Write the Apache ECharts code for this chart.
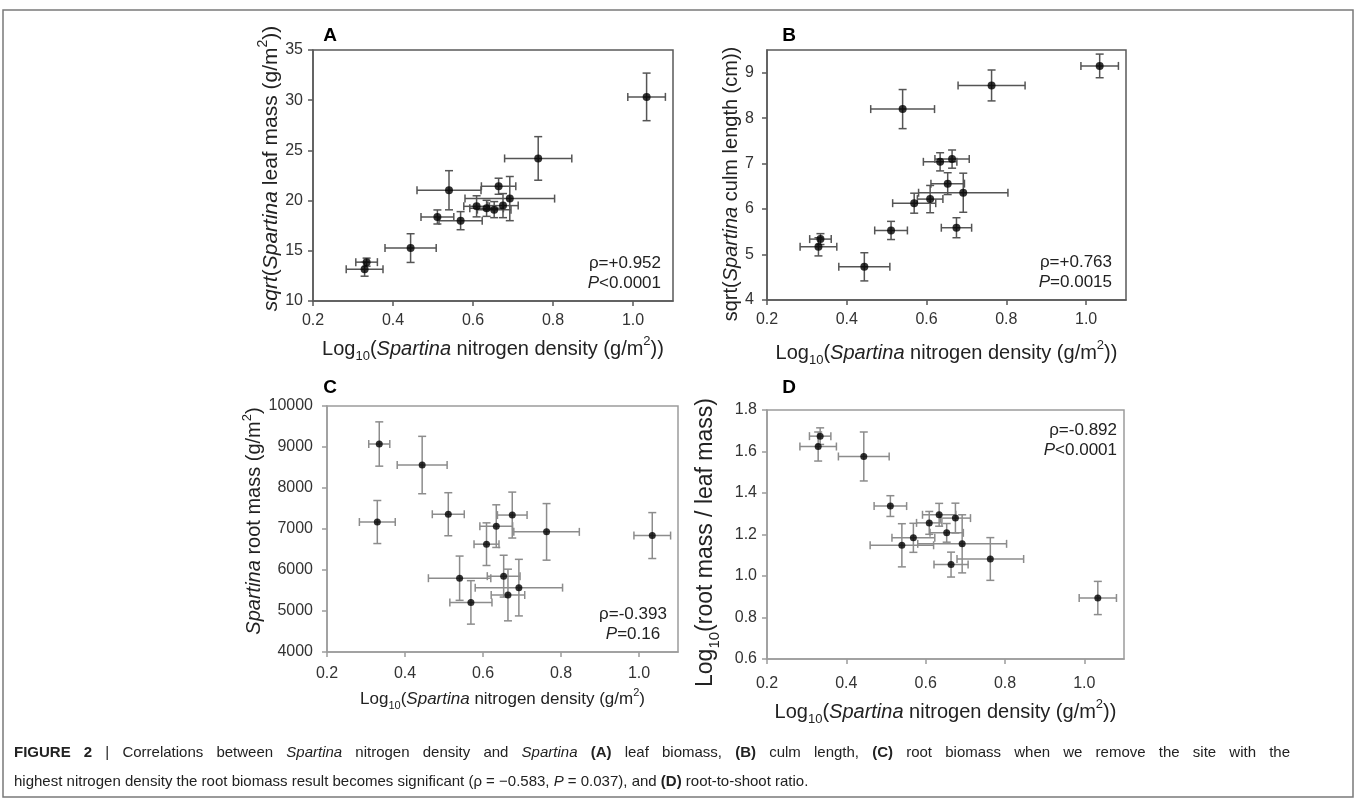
<!DOCTYPE html>
<html>
<head>
<meta charset="utf-8">
<script src="https://cdn.jsdelivr.net/npm/echarts@6/dist/echarts.min.js"></script>
<style>
  html, body { margin: 0; padding: 0; background: #fff; }
  #chart { width: 1357px; height: 804px; }
</style>
</head>
<body>
<div id="chart"></div>
<script>
// 14 sites, log10 nitrogen density (shared x of every panel) and its error
const siteN    = [0.329, 0.334, 0.444, 0.511, 0.540, 0.569, 0.609, 0.634, 0.653, 0.664, 0.675, 0.692, 0.763, 1.034];
const siteNErr = [0.046, 0.027, 0.064, 0.041, 0.080, 0.054, 0.032, 0.042, 0.042, 0.043, 0.038, 0.112, 0.084, 0.047];

// A: sqrt leaf mass
const leafSqrt    = [13.17, 13.87, 15.27, 18.37, 21.03, 18.0, 19.43, 19.23, 19.1, 21.43, 19.5, 20.2, 24.2, 30.33];
const leafSqrtErr = [0.7, 0.4, 1.43, 0.7, 1.95, 0.9, 1.05, 0.8, 0.8, 0.8, 1.2, 2.2, 2.17, 2.37];
// B: sqrt culm length
const culmSqrt    = [5.17, 5.34, 4.73, 5.53, 8.2, 6.13, 6.22, 7.04, 6.56, 7.1, 5.59, 6.36, 8.72, 9.15];
const culmSqrtErr = [0.2, 0.12, 0.31, 0.2, 0.43, 0.22, 0.3, 0.2, 0.24, 0.2, 0.22, 0.43, 0.34, 0.26];
// C: root mass
const rootMass    = [7170, 9073, 8560, 7360, 5800, 5210, 6630, 7070, 5850, 5390, 7340, 5570, 6930, 6840];
const rootMassErr = [525, 540, 700, 525, 540, 530, 520, 520, 510, 630, 560, 690, 690, 560];
// D: log10 root/leaf
const rootShoot    = [1.624, 1.674, 1.576, 1.337, 1.148, 1.184, 1.256, 1.295, 1.208, 1.055, 1.279, 1.155, 1.082, 0.894];
const rootShootErr = [0.07, 0.04, 0.118, 0.05, 0.104, 0.07, 0.055, 0.055, 0.045, 0.06, 0.072, 0.14, 0.103, 0.08];

// tick labels
const xTicks     = [0.2, 0.4, 0.6, 0.8, 1.0];
const leafTicks  = [10, 15, 20, 25, 30, 35];
const culmTicks  = [4, 5, 6, 7, 8, 9];
const rootTicks  = [4000, 5000, 6000, 7000, 8000, 9000, 10000];
const ratioTicks = [0.6, 0.8, 1.0, 1.2, 1.4, 1.6, 1.8];

const FONT = "'Liberation Sans', Arial, Helvetica, sans-serif";
const chart = echarts.init(document.getElementById('chart'));

// rich styles for axis names (echarts text: color)
function nameRich(size, color) {
  const lh = Math.round(size * 1.4);
  const s = Math.round(size * 0.65);
  const base = { fontSize: size, fontFamily: FONT, color: color, lineHeight: lh };
  return {
    n: base,
    i: Object.assign({}, base, { fontStyle: 'italic' }),
    sub: { fontSize: s, fontFamily: FONT, color: color, lineHeight: Math.round(size * 0.7), verticalAlign: 'bottom' },
    sup: { fontSize: s, fontFamily: FONT, color: color, lineHeight: size, verticalAlign: 'top' }
  };
}

const xName2 = '{n|Log}{sub|10}{n|(}{i|Spartina}{n| nitrogen density (g/m}{sup|2}{n|))}';
const xName1 = '{n|Log}{sub|10}{n|(}{i|Spartina}{n| nitrogen density (g/m}{sup|2}{n|)}';

const panels = [
  { grid: { left: 313, top: 50, width: 360, height: 251 }, ys: leafSqrt, errs: leafSqrtErr,
    ymin: 10, ymax: 35, yTicks: leafTicks, dec: 0, dark: true,
    xName: xName2, xGap: 34, xMargin: 12, xSize: 20,
    yName: '{i|sqrt}{n|(}{i|Spartina}{n| leaf mass (g/m}{sup|2}{n|))}', yGap: 23, yMargin: 10, ySize: 21,
    yPad: [0, 0, 0, 14] },
  { grid: { left: 767, top: 50, width: 359, height: 250 }, ys: culmSqrt, errs: culmSqrtErr,
    ymin: 4, ymax: 9.5, yTicks: culmTicks, dec: 0, dark: true,
    xName: xName2, xGap: 39, xMargin: 12, xSize: 20,
    yName: '{n|sqrt(}{i|Spartina}{n| culm length (cm))}', yGap: 22, yMargin: 13, ySize: 20,
    yPad: [0, 18, 0, 0] },
  { grid: { left: 327, top: 406, width: 351, height: 246 }, ys: rootMass, errs: rootMassErr,
    ymin: 4000, ymax: 10000, yTicks: rootTicks, dec: 0, dark: false,
    xName: xName1, xGap: 35, xMargin: 14, xSize: 17,
    yName: '{i|Spartina}{n| root mass (g/m}{sup|2}{n|)}', yGap: 55, yMargin: 14, ySize: 20,
    yPad: [0, 0, 0, 16] },
  { grid: { left: 767, top: 410, width: 357, height: 249 }, ys: rootShoot, errs: rootShootErr,
    ymin: 0.6, ymax: 1.8, yTicks: ratioTicks, dec: 1, dark: false,
    xName: xName2, xGap: 39, xMargin: 17, xSize: 20,
    yName: '{n|Log}{sub|10}{n|(root mass / leaf mass)}', yGap: 45, yMargin: 10, ySize: 23,
    yPad: [0, 16, 0, 0] }
];

function errorBars(color) {
  return function (params, api) {
    const x = api.value(0), y = api.value(1), ex = api.value(2), ey = api.value(3);
    const c = api.coord([x, y]);
    const l = api.coord([x - ex, y])[0], r = api.coord([x + ex, y])[0];
    const t = api.coord([x, y + ey])[1], b = api.coord([x, y - ey])[1];
    const cap = 4;
    const st = () => ({ stroke: color, lineWidth: 1.5 });
    return {
      type: 'group',
      children: [
        { type: 'line', shape: { x1: l, y1: c[1], x2: r, y2: c[1] }, style: st() },
        { type: 'line', shape: { x1: l, y1: c[1] - cap, x2: l, y2: c[1] + cap }, style: st() },
        { type: 'line', shape: { x1: r, y1: c[1] - cap, x2: r, y2: c[1] + cap }, style: st() },
        { type: 'line', shape: { x1: c[0], y1: t, x2: c[0], y2: b }, style: st() },
        { type: 'line', shape: { x1: c[0] - cap, y1: t, x2: c[0] + cap, y2: t }, style: st() },
        { type: 'line', shape: { x1: c[0] - cap, y1: b, x2: c[0] + cap, y2: b }, style: st() }
      ]
    };
  };
}

const grids = [], xAxes = [], yAxes = [], series = [];
panels.forEach((p, k) => {
  const axisCol = p.dark ? '#5a5a5a' : '#9c9c9c';
  const barCol = p.dark ? '#555' : '#8c8c8c';
  grids.push(Object.assign({ show: true, borderColor: axisCol, borderWidth: 1.5, backgroundColor: '#fff' }, p.grid));
  xAxes.push({
    type: 'value', gridIndex: k, min: 0.2, max: 1.1,
    axisLine: { lineStyle: { color: axisCol, width: 1.5 } },
    axisTick: { customValues: xTicks, length: 5, lineStyle: { color: axisCol, width: 1.5 } },
    axisLabel: { customValues: xTicks, margin: p.xMargin, fontSize: 16, fontFamily: FONT, color: '#333',
      formatter: v => v.toFixed(1) },
    splitLine: { show: false },
    name: p.xName, nameLocation: 'middle', nameGap: p.xGap,
    nameTextStyle: { rich: nameRich(p.xSize, '#222') }
  });
  yAxes.push({
    type: 'value', gridIndex: k, min: p.ymin, max: p.ymax,
    axisLine: { show: true, lineStyle: { color: axisCol, width: 1.5 } },
    axisTick: { show: true, customValues: p.yTicks, length: 5, lineStyle: { color: axisCol, width: 1.5 } },
    axisLabel: { customValues: p.yTicks, margin: p.yMargin, fontSize: 16, fontFamily: FONT, color: '#333',
      formatter: v => v.toFixed(p.dec) },
    splitLine: { show: false },
    name: p.yName, nameLocation: 'middle', nameRotate: 90, nameGap: p.yGap,
    nameTextStyle: { padding: p.yPad, rich: nameRich(p.ySize, '#222') }
  });
  const data = siteN.map((x, i) => [x, p.ys[i], siteNErr[i], p.errs[i]]);
  series.push({
    type: 'custom', xAxisIndex: k, yAxisIndex: k, z: 2,
    renderItem: errorBars(barCol), data: data, silent: true
  });
  series.push({
    type: 'scatter', xAxisIndex: k, yAxisIndex: k, z: 3,
    symbol: 'circle', symbolSize: p.dark ? 8 : 7,
    itemStyle: { color: '#000' },
    data: siteN.map((x, i) => [x, p.ys[i]])
  });
});

// zrender rich styles for graphic text (fill)
function gRich(size, color) {
  const base = { fontSize: size, fontFamily: FONT, fill: color };
  return {
    n: base,
    i: Object.assign({}, base, { fontStyle: 'italic' }),
    b: Object.assign({}, base, { fontWeight: 'bold' })
  };
}
function gText(text, x, y, align, size, extra) {
  return {
    type: 'text', x: x, y: y, silent: true, z: 10,
    style: Object.assign({ text: text, align: align, verticalAlign: 'middle',
      fontSize: size, fontFamily: FONT, fill: '#222', rich: gRich(size, '#222') }, extra || {})
  };
}

// caption: first line is justified between x0 and x1
const CAP = 15;
const capLine1 = [
  ['b', 'FIGURE'], ['b', '2'], ['n', '|'], ['n', 'Correlations'], ['n', 'between'], ['i', 'Spartina'],
  ['n', 'nitrogen'], ['n', 'density'], ['n', 'and'], ['i', 'Spartina'], ['b', '(A)'], ['n', 'leaf'],
  ['n', 'biomass,'], ['b', '(B)'], ['n', 'culm'], ['n', 'length,'], ['b', '(C)'], ['n', 'root'],
  ['n', 'biomass'], ['n', 'when'], ['n', 'we'], ['n', 'remove'], ['n', 'the'], ['n', 'site'],
  ['n', 'with'], ['n', 'the']
];
function justified(words, x0, x1, y, size) {
  const ctx = document.createElement('canvas').getContext('2d');
  const fontOf = s => (s === 'i' ? 'italic ' : '') + (s === 'b' ? 'bold ' : '') + size + 'px ' + FONT;
  const widths = words.map(w => { ctx.font = fontOf(w[0]); return ctx.measureText(w[1]).width; });
  const total = widths.reduce((a, b) => a + b, 0);
  const gap = (x1 - x0 - total) / (words.length - 1);
  let x = x0;
  return words.map((w, i) => {
    const el = gText('{' + w[0] + '|' + w[1] + '}', x, y, 'left', size);
    x += widths[i] + gap;
    return el;
  });
}

const graphics = [
  { type: 'rect', shape: { x: 3, y: 10, width: 1350, height: 787 }, silent: true, z: 0,
    style: { fill: 'none', stroke: '#7a7a7a', lineWidth: 1.5 } },
  gText('A', 330, 36, 'center', 19, { fontWeight: 'bold', fill: '#000' }),
  gText('B', 789, 36, 'center', 19, { fontWeight: 'bold', fill: '#000' }),
  gText('C', 330, 388, 'center', 19, { fontWeight: 'bold', fill: '#000' }),
  gText('D', 789, 388, 'center', 19, { fontWeight: 'bold', fill: '#000' }),
  gText('{n|ρ=+0.952}', 661, 263, 'right', 17),
  gText('{i|P}{n|<0.0001}', 661, 283, 'right', 17),
  gText('{n|ρ=+0.763}', 1112, 262, 'right', 17),
  gText('{i|P}{n|=0.0015}', 1112, 282, 'right', 17),
  gText('{n|ρ=-0.393}', 633, 614, 'center', 17),
  gText('{i|P}{n|=0.16}', 633, 634, 'center', 17),
  gText('{n|ρ=-0.892}', 1117, 430, 'right', 17),
  gText('{i|P}{n|<0.0001}', 1117, 450, 'right', 17),
  gText('{n|highest nitrogen density the root biomass result becomes significant (ρ = −0.583, }{i|P}{n| = 0.037), and }{b|(D)}{n| root-to-shoot ratio.}',
    14, 782, 'left', CAP)
].concat(justified(capLine1, 14, 1290, 753, CAP));

chart.setOption({
  backgroundColor: '#fff',
  animation: false,
  grid: grids,
  xAxis: xAxes,
  yAxis: yAxes,
  series: series,
  graphic: graphics
});
</script>
</body>
</html>
